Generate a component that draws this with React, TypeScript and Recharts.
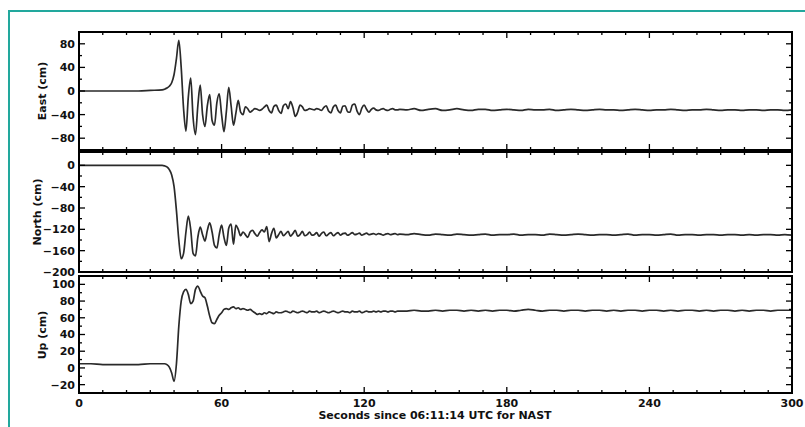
import { Line, LineChart, XAxis, YAxis } from 'recharts';

// seconds since 06:11:14 UTC
const secs = [
  0, 5, 10, 15, 20, 25, 30,
  35, 36, 37, 38, 39, 40, 41, 42, 43, 44,
  45, 46, 47, 48, 49, 50, 51, 52, 53, 54,
  55, 56, 57, 58, 59, 60, 61, 62, 63, 64,
  65, 66, 67, 68, 69, 70, 71, 72, 73, 74,
  75, 76, 77, 78, 79, 80, 81, 82, 83, 84,
  85, 86, 87, 88, 89, 90, 91, 92, 93, 94,
  95, 96, 97, 98, 99, 100, 101, 102, 103, 104,
  105, 106, 107, 108, 109, 110, 111, 112, 113, 114,
  115, 116, 117, 118, 119, 120, 121, 122, 123, 124,
  125, 126, 127, 128, 129, 130, 131, 132, 133, 134,
  135,
  138, 141, 144, 147, 150, 153, 156, 159, 162, 165, 168,
  171, 174, 177, 180, 183, 186, 189, 192, 195, 198, 201,
  204, 207, 210, 213, 216, 219, 222, 225, 228, 231, 234,
  237, 240, 243, 246, 249, 252, 255, 258, 261, 264, 267,
  270, 273, 276, 279, 282, 285, 288, 291, 294, 297, 300,
];

const east = [
  0, 0, 0, 0, 0, 0, 1,
  2, 3, 5, 8, 14, 28, 55, 86, 40, -30,
  -68, -10, 22, -45, -74, -25, 10, -40, -60, -25,
  -6, -50, -58, -20, -5, -40, -69, -35, 6, -25,
  -58, -38, -16, -36, -40, -27, -30, -36, -33, -30,
  -31, -33, -31, -27, -24, -33, -37, -26, -24, -33,
  -38, -25, -22, -30, -18, -28, -43, -36, -24, -27,
  -33, -32, -30, -31, -32, -30, -31, -33, -28, -25,
  -34, -37, -27, -24, -33, -37, -26, -25, -35, -36,
  -24, -22, -34, -40, -29, -24, -31, -36, -31, -29,
  -32, -33, -31, -30, -32, -33, -31, -30, -32, -32,
  -31,
  -32, -30, -33, -31, -30, -33, -32, -30, -32, -33, -31,
  -31, -33, -32, -31, -32, -33, -31, -32, -32, -31, -33,
  -32, -31, -32, -33, -32, -31, -32, -32, -33, -32, -31,
  -32, -33, -32, -32, -31, -32, -33, -32, -32, -31, -32,
  -33, -32, -32, -33, -32, -32, -33, -32, -32, -33, -32,
];

const north = [
  0, 0, 0, 0, 0, 0, 0,
  0, -1, -3, -8, -18, -40, -85, -140, -175, -165,
  -125, -95, -120, -165, -170, -135, -116, -130, -142, -122,
  -108, -125, -150, -155, -130, -112, -135, -150, -118, -110,
  -148, -112, -120, -132, -125, -130, -135, -125, -122, -128,
  -133, -126, -121, -125, -115, -143, -128, -118, -136, -130,
  -124, -132, -128, -124, -133, -128, -122, -133, -130, -124,
  -132, -130, -125, -131, -130, -126, -133, -128, -125, -132,
  -129, -126, -132, -129, -126, -131, -128, -127, -131, -129,
  -126, -130, -129, -127, -131, -129, -127, -130, -129, -128,
  -130, -128, -129, -131, -129, -128, -130, -129, -128, -130,
  -129,
  -130, -128, -130, -131, -129, -130, -131, -129, -130, -131, -130,
  -129, -131, -130, -130, -129, -131, -130, -130, -131, -129, -130,
  -131, -130, -129, -130, -131, -130, -130, -131, -130, -129, -131,
  -130, -130, -131, -130, -129, -131, -130, -130, -131, -130, -130,
  -131, -130, -130, -131, -130, -131, -130, -130, -131, -130, -131,
];

const up = [
  5, 5, 4, 4, 4, 4, 5,
  5, 5, 4, 1, -6, -16, 5, 50, 80, 91,
  94, 88, 77, 80, 94, 98, 92, 86, 84, 74,
  62, 54, 53, 58, 63, 66, 70, 71, 70, 72,
  73, 71, 72, 70, 71, 70, 69, 70, 68, 66,
  64, 65, 64, 66, 65, 67, 66, 65, 67, 66,
  66, 67, 68, 67, 66, 68, 67, 66, 67, 68,
  67, 66, 68, 67, 67, 68, 66, 67, 68, 67,
  66, 67, 68, 67, 66, 67, 68, 67, 67, 66,
  68, 67, 67, 68, 66, 67, 68, 67, 67, 68,
  67, 68, 67, 68, 68, 67, 68, 68, 67, 68,
  68,
  68, 69, 68, 68, 69, 68, 69, 69, 68, 69, 68,
  69, 68, 69, 69, 68, 69, 70, 69, 68, 69, 69,
  68, 69, 69, 68, 69, 69, 68, 69, 68, 69, 69,
  68, 69, 69, 68, 69, 68, 69, 69, 68, 69, 68,
  69, 69, 68, 69, 68, 69, 69, 68, 69, 69, 69,
];

const xMajor = [0, 60, 120, 180, 240, 300];
const xMinor = [
  10, 20, 30, 40, 50, 70, 80, 90, 100, 110, 130, 140, 150, 160, 170,
  190, 200, 210, 220, 230, 250, 260, 270, 280, 290,
];

const eastMajor = [-80, -40, 0, 40, 80];
const eastMinor = [-60, -20, 20, 60];
const northMajor = [-200, -160, -120, -80, -40, 0];
const northMinor = [-180, -140, -100, -60, -20];
const upMajor = [-20, 0, 20, 40, 60, 80, 100];
const upMinor = [-10, 10, 30, 50, 70, 90];

const W = 805;
const H = 427;
const LEFT = 79;
const RIGHT = 792;
const AX = 1; // axis thickness reserved by recharts
const FONT = '"DejaVu Sans", Arial, sans-serif';
const frame = { stroke: '#000', strokeWidth: 2 };

const fmt = (v: number) => (v < 0 ? `\u2212${Math.abs(v)}` : `${v}`);

interface PanelProps {
  values: number[];
  domain: [number, number];
  major: number[];
  minor: number[];
  top: number;
  bottom: number;
  xLabels?: boolean;
}

function Panel({ values, domain, major, minor, top, bottom, xLabels }: PanelProps) {
  const rows = secs.map((t, i) => ({ t, v: values[i] }));
  const xTicks = [...xMajor, ...xMinor];
  const yTicks = [...major, ...minor];

  const xTick = (side: 'top' | 'bottom') => (p: any) => {
    const val = p.payload.value;
    const isMajor = xMajor.includes(val);
    const len = isMajor ? 6 : 3;
    const dir = side === 'bottom' ? -1 : 1;
    const y0 = side === 'bottom' ? bottom : top;
    return (
      <g>
        <line x1={p.x} x2={p.x} y1={y0} y2={y0 + dir * len} stroke="#000" strokeWidth={1.3} />
        {side === 'bottom' && xLabels && isMajor && (
          <text x={p.x} y={y0 + 14} textAnchor="middle" fontFamily={FONT} fontSize={11} fontWeight="bold" fill="#111">
            {val}
          </text>
        )}
      </g>
    );
  };

  const yTick = (side: 'left' | 'right') => (p: any) => {
    const val = p.payload.value;
    const isMajor = major.includes(val);
    const len = isMajor ? 6 : 3;
    const dir = side === 'left' ? 1 : -1;
    const x0 = side === 'left' ? LEFT : RIGHT;
    return (
      <g>
        <line x1={x0} x2={x0 + dir * len} y1={p.y} y2={p.y} stroke="#000" strokeWidth={1.3} />
        {side === 'left' && isMajor && (
          <text x={x0 - 4} y={p.y} dy="0.36em" textAnchor="end" fontFamily={FONT} fontSize={11} fontWeight="bold" fill="#111">
            {fmt(val)}
          </text>
        )}
      </g>
    );
  };

  return (
    <div style={{ position: 'absolute', left: 0, top: 0 }}>
      <LineChart
        width={W}
        height={H}
        data={rows}
        margin={{ top: top - AX, bottom: H - bottom - AX, left: LEFT - AX, right: W - RIGHT - AX }}
      >
        <XAxis xAxisId="b" dataKey="t" type="number" domain={[0, 300]} allowDataOverflow ticks={xTicks} interval={0}
          height={AX} tickSize={0} tickMargin={0} axisLine={false} tickLine={false} tick={xTick('bottom')} />
        <XAxis xAxisId="t" orientation="top" dataKey="t" type="number" domain={[0, 300]} allowDataOverflow ticks={xTicks}
          interval={0} height={AX} tickSize={0} tickMargin={0} axisLine={false} tickLine={false} tick={xTick('top')} />
        <YAxis yAxisId="l" type="number" domain={domain} allowDataOverflow ticks={yTicks} interval={0} width={AX}
          tickSize={0} tickMargin={0} axisLine={false} tickLine={false} tick={yTick('left')} />
        <YAxis yAxisId="r" orientation="right" type="number" domain={domain} allowDataOverflow ticks={yTicks} interval={0}
          width={AX} tickSize={0} tickMargin={0} axisLine={false} tickLine={false} tick={yTick('right')} />
        <Line xAxisId="b" yAxisId="l" type="monotone" dataKey="v" stroke="#2a2a2a" strokeWidth={1.7}
          dot={false} isAnimationActive={false} />
      </LineChart>
      <div
        style={{
          position: 'absolute', left: LEFT - 1, top: top - 1, width: RIGHT - LEFT + 2, height: bottom - top + 2,
          boxSizing: 'border-box', border: `${frame.strokeWidth}px solid ${frame.stroke}`, pointerEvents: 'none',
        }}
      />
    </div>
  );
}

const axisTitle = (text: string, x: number, y: number) => (
  <div
    style={{
      position: 'absolute', left: x, top: y, transform: 'translate(-50%, -50%) rotate(-90deg)',
      whiteSpace: 'nowrap', fontFamily: FONT, fontSize: 11, fontWeight: 'bold', color: '#111',
    }}
  >
    {text}
  </div>
);

export default function App() {
  return (
    <div style={{ position: 'absolute', left: 0, top: 0, width: W, height: H, background: '#fff', overflow: 'hidden' }}>
      <div style={{ position: 'absolute', left: 8, top: 10, width: W, height: H, borderTop: '2px solid #22a89d', borderLeft: '2px solid #22a89d' }} />
      <Panel values={east} domain={[-100, 100]} major={eastMajor} minor={eastMinor} top={32} bottom={150} />
      <Panel values={north} domain={[-200, 25]} major={northMajor} minor={northMinor} top={152} bottom={272} />
      <Panel values={up} domain={[-30, 110]} major={upMajor} minor={upMinor} top={276} bottom={393} xLabels />
      {axisTitle('East (cm)', 42, 91)}
      {axisTitle('North (cm)', 37, 212)}
      {axisTitle('Up (cm)', 42, 335)}
      <div style={{ position: 'absolute', left: 435, top: 415, transform: 'translate(-50%, -50%)', whiteSpace: 'nowrap', fontFamily: FONT, fontSize: 11, fontWeight: 'bold', color: '#111' }}>
        Seconds since 06:11:14 UTC for NAST
      </div>
    </div>
  );
}
